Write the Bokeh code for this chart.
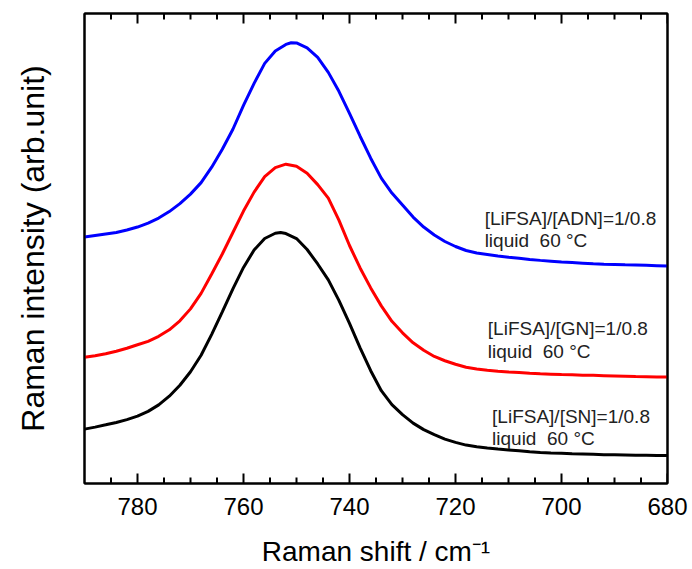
from bokeh.plotting import figure
from bokeh.models import Range1d, FixedTicker, LinearAxis
from bokeh.core.properties import value
from bokeh.embed import file_html
from bokeh.resources import INLINE

# Raman shift (cm^-1) and intensities (arb. units)
adn_x = [790, 788, 786, 784, 782, 780, 778, 776, 774, 772, 770, 768, 766, 764, 762, 760,
         758, 756, 754, 752, 751, 750, 748, 746, 744, 742, 740, 738, 736, 734, 732, 730,
         728, 726, 724, 722, 720, 718, 716, 714, 712, 710, 708, 706, 704, 702, 700, 698,
         696, 694, 692, 690, 688, 686, 684, 682, 680]
adn_y = [247.0, 248.5, 250.0, 251.5, 254.0, 257.0, 261.0, 266.0, 272.5, 280.5, 290.0,
         301.5, 317.0, 335.0, 355.0, 379.0, 401.0, 421.0, 433.5, 440.0, 441.7, 441.5,
         436.5, 427.0, 412.0, 393.0, 371.0, 348.0, 326.0, 306.0, 291.0, 279.0, 267.0,
         257.0, 249.0, 242.5, 237.5, 233.5, 231.0, 229.5, 228.0, 226.8, 225.8, 224.5,
         223.6, 222.8, 222.0, 221.4, 220.8, 220.2, 219.7, 219.4, 219.1, 218.9, 218.6,
         218.3, 218.0]

gn_x = [790, 788, 786, 784, 782, 780, 778, 776, 774, 772, 770, 768, 766, 764, 762, 760,
        758, 756, 754, 752, 750, 748, 746, 744, 742, 740, 738, 736, 734, 732, 730, 728,
        726, 724, 722, 720, 718, 716, 714, 712, 710, 708, 706, 704, 702, 700, 698, 696,
        694, 692, 690, 688, 686, 684, 682, 680]
gn_y = [126.5, 128.0, 130.0, 132.5, 135.5, 139.0, 142.5, 147.5, 154.0, 163.0, 175.0,
        190.5, 210.0, 230.0, 251.5, 273.0, 292.0, 307.5, 316.5, 320.0, 318.0, 311.0,
        299.5, 286.0, 264.0, 238.5, 216.0, 196.0, 178.0, 162.5, 151.0, 141.0, 133.5,
        127.3, 123.0, 119.5, 116.5, 114.8, 113.5, 112.5, 111.8, 111.2, 110.5, 110.0,
        109.6, 109.2, 108.9, 108.6, 108.4, 108.1, 107.8, 107.5, 107.2, 107.0, 106.8,
        106.7]

sn_x = [790, 788, 786, 784, 782, 780, 778, 776, 774, 772, 770, 768, 766, 764, 762, 760,
        758, 756, 754, 753, 752, 750, 748, 746, 744, 742, 740, 738, 736, 734, 732, 730,
        728, 726, 724, 722, 720, 718, 716, 714, 712, 710, 708, 706, 704, 702, 700, 698,
        696, 694, 692, 690, 688, 686, 684, 682, 680]
sn_y = [54.5, 56.5, 58.8, 61.2, 64.0, 67.5, 72.3, 78.8, 87.5, 98.5, 112.0, 128.5,
        149.5, 172.0, 195.0, 216.5, 234.0, 245.5, 250.8, 251.5, 250.5, 245.5, 234.5,
        220.0, 204.0, 183.5, 160.5, 136.0, 113.0, 93.0, 79.0, 69.0, 60.5, 54.0, 49.0,
        44.5, 41.2, 38.5, 36.8, 35.6, 34.5, 33.6, 32.7, 31.8, 31.1, 30.6, 30.2, 29.8,
        29.5, 29.2, 28.9, 28.7, 28.5, 28.3, 28.2, 28.1, 28.0]

major_ticks = [780, 760, 740, 720, 700, 680]
minor_ticks = [785, 775, 770, 765, 755, 750, 745, 735, 730, 725, 715, 710, 705, 695, 690, 685]

NB = "\u00a0"
label_text = ["[LiFSA]/[ADN]=1/0.8", "liquid" + NB + NB + "60" + NB + "\u00b0C",
              "[LiFSA]/[GN]=1/0.8", "liquid" + NB + NB + "60" + NB + "\u00b0C",
              "[LiFSA]/[SN]=1/0.8", "liquid" + NB + NB + "60" + NB + "\u00b0C"]
label_x = [714.5, 714.5, 713.9, 713.9, 713.1, 713.1]
label_y = [266.0, 244.0, 155.0, 132.5, 67.3, 44.7]

FONT = "Liberation Sans"
Y0, Y1 = 0, 471

p = figure(width=692, height=569, x_range=Range1d(790, 680), y_range=Range1d(Y0, Y1),
           output_backend="svg", toolbar_location=None,
           min_border_left=84, min_border_right=25, min_border_top=13, min_border_bottom=85)
p.background_fill_color = "white"
p.border_fill_color = "white"
p.xgrid.grid_line_color = None
p.ygrid.grid_line_color = None
p.outline_line_color = "black"
p.outline_line_width = 2

xa = p.xaxis[0]
xa.ticker = FixedTicker(ticks=major_ticks, minor_ticks=minor_ticks)
xa.axis_line_width = 2
xa.major_tick_line_color = None
xa.minor_tick_line_color = None
xa.major_label_text_font = FONT
xa.major_label_text_font_size = "24px"
xa.major_label_text_color = "black"
xa.major_label_standoff = 8
xa.axis_label = "Raman shift / cm\u207b\u00b9"
xa.axis_label_text_font = FONT
xa.axis_label_text_font_size = "28px"
xa.axis_label_text_font_style = "normal"
xa.axis_label_text_color = "black"
xa.axis_label_standoff = 18

ya = p.yaxis[0]
ya.ticker = FixedTicker(ticks=[])
ya.axis_line_width = 2
ya.major_tick_line_color = None
ya.minor_tick_line_color = None
ya.major_label_standoff = 0
ya.axis_label = "Raman intensity (arb.unit)"
ya.axis_label_text_font = FONT
ya.axis_label_text_font_size = "32px"
ya.axis_label_text_font_style = "normal"
ya.axis_label_text_color = "black"
ya.axis_label_standoff = 34

for side in ("above", "right"):
    ax = LinearAxis(ticker=FixedTicker(ticks=[]))
    ax.axis_line_width = 2
    ax.major_tick_line_color = None
    ax.minor_tick_line_color = None
    ax.major_label_standoff = 0
    p.add_layout(ax, side)

# inward tick marks on bottom and top frame edges
nM, nm = len(major_ticks), len(minor_ticks)
TC = "black"
p.segment(x0=major_ticks, y0=[Y0] * nM, x1=major_ticks, y1=[Y0 + 10] * nM,
          line_color=TC, line_width=2)
p.segment(x0=minor_ticks, y0=[Y0] * nm, x1=minor_ticks, y1=[Y0 + 6] * nm,
          line_color=TC, line_width=2)
p.segment(x0=major_ticks, y0=[Y1] * nM, x1=major_ticks, y1=[Y1 - 10] * nM,
          line_color=TC, line_width=2)
p.segment(x0=minor_ticks, y0=[Y1] * nm, x1=minor_ticks, y1=[Y1 - 6] * nm,
          line_color=TC, line_width=2)

p.line(adn_x, adn_y, line_color="#0000ff", line_width=3)
p.line(gn_x, gn_y, line_color="#ff0000", line_width=3)
p.line(sn_x, sn_y, line_color="black", line_width=3)

p.text(x=label_x, y=label_y, text=label_text, text_font=value(FONT),
       text_font_size="19px", text_color="#222222", text_align="left",
       text_baseline="alphabetic")

open("out.html", "w").write(file_html(p, INLINE))
